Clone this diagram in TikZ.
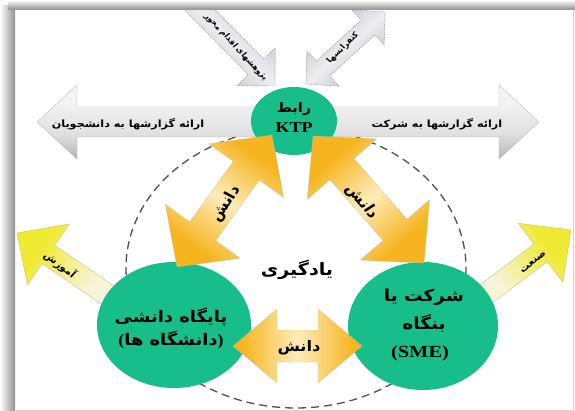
\documentclass[tikz,border=0pt]{standalone}
\usepackage{fontspec}
\usetikzlibrary{calc,shapes.geometric}
\TeXXeTstate=1
\newfontfamily\arabicfont[Script=Arabic]{DejaVu Sans}
\newfontfamily\latinserif{Liberation Serif}
\newcommand{\faR}[1]{\beginR#1\endR}

\definecolor{ktpgreen}{RGB}{24,189,140}
\definecolor{ygold}{RGB}{246,180,30}
\definecolor{ypale}{RGB}{252,236,185}
\definecolor{ylime}{RGB}{240,234,50}
\definecolor{ycream}{RGB}{247,244,218}
\definecolor{grayL}{RGB}{244,244,244}
\definecolor{grayM}{RGB}{224,224,224}
\definecolor{grayD}{RGB}{180,180,180}
\definecolor{tgrayL}{RGB}{238,238,242}
\definecolor{tgrayD}{RGB}{198,198,204}
\definecolor{dashgray}{RGB}{80,80,80}
\definecolor{outlinegray}{RGB}{140,140,140}
\definecolor{olivegray}{RGB}{200,192,130}
\definecolor{shadowgray}{RGB}{145,145,145}

\pgfdeclarehorizontalshading{goldsh}{100bp}{color(0bp)=(ygold); color(28bp)=(ygold); color(50bp)=(ypale); color(72bp)=(ygold); color(100bp)=(ygold)}
\pgfdeclarehorizontalshading{limesh}{100bp}{color(0bp)=(ycream); color(35bp)=(ycream); color(68bp)=(ylime); color(100bp)=(ylime)}
\pgfdeclareverticalshading{bigraysh}{100bp}{color(0bp)=(grayD); color(25bp)=(grayD); color(42bp)=(grayM); color(65bp)=(grayL); color(100bp)=(grayL)}
\pgfdeclarehorizontalshading{topgraysh}{100bp}{color(0bp)=(tgrayD); color(30bp)=(tgrayD); color(50bp)=(tgrayL); color(70bp)=(tgrayD); color(100bp)=(tgrayD)}

% double-headed arrow: options, tipA, tipB, head length, head half width, shaft half width
\newcommand{\dblarrow}[6][]{%
\path[#1] (#2) -- ($(#2)!#4!(#3)!#5!90:(#3)$) -- ($(#2)!#4!(#3)!#6!90:(#3)$)
 -- ($(#3)!#4!(#2)!#6!-90:(#2)$) -- ($(#3)!#4!(#2)!#5!-90:(#2)$) -- (#3)
 -- ($(#3)!#4!(#2)!#5!90:(#2)$) -- ($(#3)!#4!(#2)!#6!90:(#2)$)
 -- ($(#2)!#4!(#3)!#6!-90:(#3)$) -- ($(#2)!#4!(#3)!#5!-90:(#3)$) -- cycle;}
% single arrow: options, tail, tip, head length, head half width, shaft half width
\newcommand{\sglarrow}[6][]{%
\path[#1] ($(#2)!#6!90:(#3)$) -- ($(#3)!#4!(#2)!#6!-90:(#2)$) -- ($(#3)!#4!(#2)!#5!-90:(#2)$)
 -- (#3) -- ($(#3)!#4!(#2)!#5!90:(#2)$) -- ($(#3)!#4!(#2)!#6!90:(#2)$)
 -- ($(#2)!#6!-90:(#3)$) -- cycle;}

\begin{document}
\begin{tikzpicture}[x=1pt,y=-1pt,
  fatext/.style={font=\arabicfont\bfseries\fontsize{#1}{#1}\selectfont, inner sep=0pt, xscale=1.12},
  latintext/.style={font=\latinserif\bfseries\fontsize{#1}{#1}\selectfont, inner sep=0pt, xscale=1.2},
  greenell/.style={ellipse, fill=ktpgreen, inner sep=0pt},
  bigarrow/.style={shade, shading=bigraysh, draw=grayD, line width=0.3pt},
  toparrow/.style={shade, shading=topgraysh, draw=outlinegray, line width=0.4pt, dash pattern=on 1.5pt off 1pt},
  limearrow/.style={shade, shading=limesh, draw=olivegray, line width=0.4pt},
  goldarrow/.style={shade, shading=goldsh, draw=outlinegray!60, line width=0.4pt, dash pattern=on 1.5pt off 1pt},
  learnring/.style={draw=dashgray, line width=1.3pt, dash pattern=on 8pt off 5pt}]
\useasboundingbox (0,0) rectangle (575,411);
\fill[white] (0,0) rectangle (575,411);

% named end points of the arrow shapes
\coordinate (gL) at (37,122);   \coordinate (gR) at (539,122);
\coordinate (tlT) at (192,2);   \coordinate (tlP) at (275,86);
\coordinate (trA) at (306,84);  \coordinate (trB) at (385,12);
\coordinate (ldA) at (272,135); \coordinate (ldB) at (177,267);
\coordinate (rdA) at (313,136); \coordinate (rdB) at (424,263);
\coordinate (bhA) at (233,346); \coordinate (bhB) at (362,346);
\coordinate (amT) at (115,300); \coordinate (amP) at (17,233);
\coordinate (snT) at (478,300); \coordinate (snP) at (571,230);

% learning ring
\draw[learnring] (296,268) ellipse [x radius=170, y radius=140];

% report arrow
\dblarrow[bigarrow]{gL}{gR}{40pt}{37pt}{15pt}
\node[fatext=10] (repS) at (128,124) {\faR{ارائه گزارشها به دانشجویان}};
\node[fatext=10] (repC) at (437,124) {\faR{ارائه گزارشها به شرکت}};

% top arrows
\sglarrow[toparrow, shading angle=45]{tlT}{tlP}{27pt}{27pt}{11pt}
\dblarrow[toparrow, shading angle=-48]{trA}{trB}{23pt}{24pt}{10pt}
\node[fatext=7.5, rotate=-50.2] (resT) at (236,47) {\faR{پژوهشهای اقدام محور}};
\node[fatext=7.5, rotate=47.9] (confT) at (343,48) {\faR{کنفرانسها}};

% education / industry arrows
\sglarrow[limearrow, shading angle=145.6]{amT}{amP}{38pt}{37pt}{11pt}
\sglarrow[limearrow, shading angle=37]{snT}{snP}{38pt}{37pt}{11pt}
\node[fatext=9.5, rotate=-39.3] (eduT) at (60,265) {\faR{آموزش}};
\node[fatext=9.5, rotate=42.1] (indT) at (533,262) {\faR{صنعت}};

% green circles
\node[greenell, minimum width=86pt, minimum height=68pt] (ktp) at (294,121) {};
\node[greenell, minimum width=154pt, minimum height=126pt] (uni) at (174,325) {};
\node[greenell, minimum width=150pt, minimum height=128pt] (sme) at (423,326) {};
\node[fatext=13] (ktp1) at (294,109) {\faR{رابط}};
\node[latintext=15] (ktp2) at (294,128) {KTP};
\node[fatext=16] (uni1) at (171,317) {\faR{پایگاه دانشی}};
\node[fatext=16] (uni2) at (171,340) {{\latinserif\bfseries (}\faR{دانشگاه ها}{\latinserif\bfseries )}};
\node[fatext=16.5] (sme1) at (424,297) {\faR{شرکت یا}};
\node[fatext=16.5] (sme2) at (424,323) {\faR{بنگاه}};
\node[latintext=17] (sme3) at (420,353) {(SME)};

% knowledge arrows
\dblarrow[goldarrow, shading angle=54.3]{ldA}{ldB}{44pt}{46pt}{16pt}
\dblarrow[goldarrow, shading angle=-48.8]{rdA}{rdB}{44pt}{46pt}{16pt}
\dblarrow[goldarrow]{bhA}{bhB}{44pt}{37pt}{16pt}
\node[fatext=14.5, rotate=58.8] (kn1) at (226,204) {\faR{دانش}};
\node[fatext=14.5, rotate=-53.7] (kn2) at (362,202) {\faR{دانش}};
\node[fatext=14.5] (kn3) at (299,348) {\faR{دانش}};
\node[fatext=17] (learn) at (297,270) {\faR{یادگیری}};

% frame with shadow
\fill[left color=white, right color=shadowgray] (0,6) rectangle (15,411);
\fill[top color=white, bottom color=shadowgray] (8,0) rectangle (575,9.5);
\draw[gray!35, line width=0.8pt] (573,10) -- (573,410) -- (16,410);
\end{tikzpicture}
\end{document}
